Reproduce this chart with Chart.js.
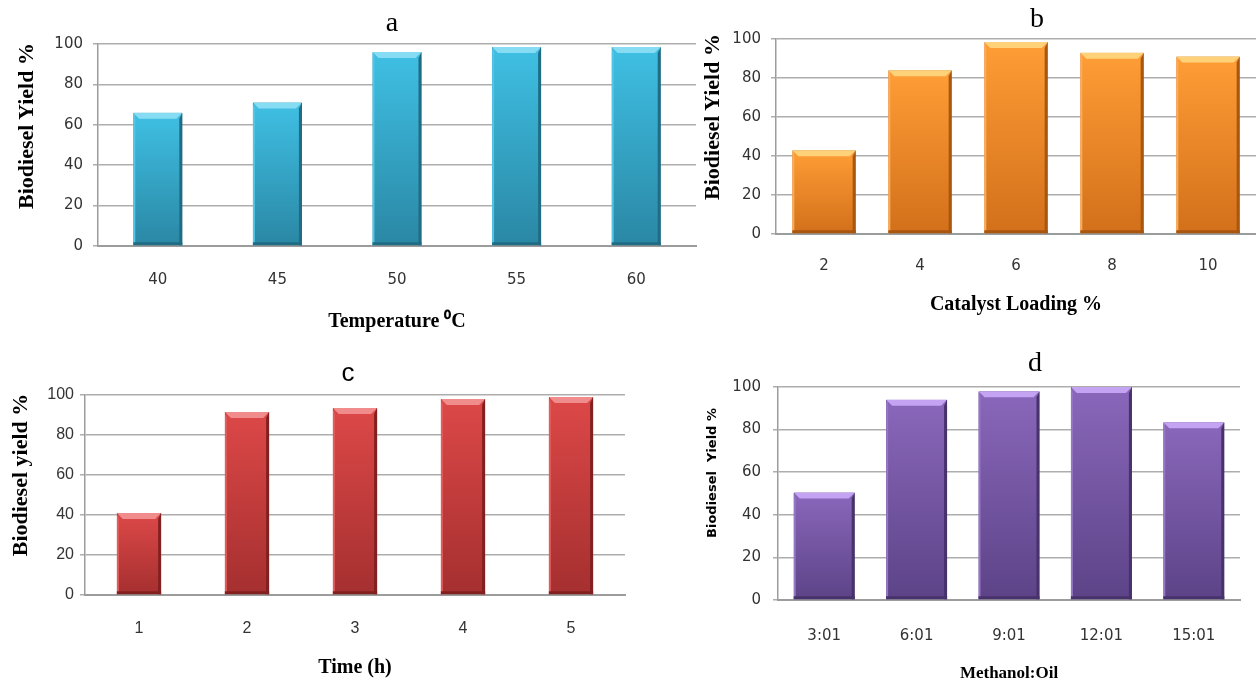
<!DOCTYPE html>
<html>
<head>
<meta charset="utf-8">
<script src="https://cdn.jsdelivr.net/npm/chart.js@4.4.0/dist/chart.umd.min.js"></script>
<style>
  html, body { margin: 0; padding: 0; background: #fff; }
  #wrap { position: relative; width: 1256px; height: 684px; overflow: hidden; }
  .panel { position: absolute; }
  .lbl { position: absolute; transform: translate(-50%, -50%); white-space: pre; color: #000; line-height: 1; }
  .vert { transform: translate(-50%, -50%) rotate(-90deg); }
</style>
</head>
<body>
<div id="wrap">
  <div class="panel" style="left:0;top:0"><canvas id="chartA" width="700" height="340"></canvas></div>
  <div class="panel" style="left:700px;top:0"><canvas id="chartB" width="556" height="340"></canvas></div>
  <div class="panel" style="left:0;top:340px"><canvas id="chartC" width="700" height="344"></canvas></div>
  <div class="panel" style="left:700px;top:340px"><canvas id="chartD" width="556" height="344"></canvas></div>

  <div class="lbl" style="left:392px;top:22px;font:28px 'Liberation Serif'">a</div>
  <div class="lbl" style="left:1037px;top:18px;font:28px 'Liberation Serif'">b</div>
  <div class="lbl" style="left:348px;top:372px;font:26px 'Liberation Sans'">c</div>
  <div class="lbl" style="left:1035px;top:362px;font:28px 'Liberation Serif'">d</div>

  <div class="lbl vert" style="left:26px;top:126px;font:bold 22px 'Liberation Serif'">Biodiesel Yield %</div>
  <div class="lbl vert" style="left:712px;top:117px;font:bold 22px 'Liberation Serif'">Biodiesel Yield %</div>
  <div class="lbl vert" style="left:20px;top:475px;font:bold 22px 'Liberation Serif'">Biodiesel yield %</div>
  <div class="lbl vert" style="left:711px;top:473px;font:bold 13px 'DejaVu Sans'">Biodiesel  Yield %</div>
</div>
<script>
// values
const tempLabels = ["40", "45", "50", "55", "60"];
const tempYield = [66, 71, 96, 98.5, 98.5];
const catalystLabels = ["2", "4", "6", "8", "10"];
const catalystYield = [43, 84, 98.5, 93, 91];
const timeLabels = ["1", "2", "3", "4", "5"];
const timeYield = [41, 91.5, 93.5, 98, 99];
const ratioLabels = ["3:01", "6:01", "9:01", "12:01", "15:01"];
const ratioYield = [50.5, 94, 98, 100, 83.5];
const yieldTicks = [0, 20, 40, 60, 80, 100];

// excel-ish bevel on each bar
const bevel = {
  id: "bevel",
  afterDatasetsDraw(chart, args, opts) {
    const ctx = chart.ctx;
    chart.getDatasetMeta(0).data.forEach((bar) => {
      const { x, y, base, width } = bar.getProps(["x", "y", "base", "width"], true);
      const l = x - width / 2, r = x + width / 2;
      const d = Math.min(6, (base - y) / 4);
      ctx.save();
      ctx.fillStyle = opts.light;
      ctx.beginPath();
      ctx.moveTo(l, y); ctx.lineTo(r, y); ctx.lineTo(r - d, y + d); ctx.lineTo(l + d, y + d);
      ctx.closePath(); ctx.fill();
      ctx.fillStyle = opts.dark;
      ctx.beginPath();
      ctx.moveTo(r, y); ctx.lineTo(r, base); ctx.lineTo(r - 3, base); ctx.lineTo(r - 3, y + d);
      ctx.closePath(); ctx.fill();
      ctx.fillStyle = opts.side;
      ctx.beginPath();
      ctx.moveTo(l, y); ctx.lineTo(l + 2, y + d); ctx.lineTo(l + 2, base); ctx.lineTo(l, base);
      ctx.closePath(); ctx.fill();
      ctx.fillStyle = opts.dark;
      ctx.fillRect(l, base - 3, width, 3);
      ctx.restore();
    });
  },
};

const makeChart = (id, labels, values, o) => {
  const ctx = document.getElementById(id);
  new Chart(ctx, {
    type: "bar",
    data: {
      labels: labels,
      datasets: [
        {
          data: values,
          backgroundColor: (c) => {
            const chart = c.chart;
            if (!chart.chartArea || c.type !== "data") return o.top;
            const ys = chart.scales.y;
            const g = chart.ctx.createLinearGradient(0, ys.getPixelForValue(c.parsed.y), 0, ys.getPixelForValue(0));
            g.addColorStop(0, o.top);
            g.addColorStop(1, o.bottom);
            return g;
          },
          borderColor: o.edge,
          borderWidth: 1,
          borderSkipped: false,
          barPercentage: o.barPct,
          categoryPercentage: 1,
        },
      ],
    },
    plugins: [bevel],
    options: {
      responsive: false,
      animation: false,
      events: [],
      layout: { padding: { top: o.padTop, right: o.padRight, left: 0, bottom: 0 } },
      plugins: {
        legend: { display: false },
        tooltip: { enabled: false },
        bevel: { light: o.light, dark: o.edge, side: o.side },
      },
      scales: {
        x: {
          grid: { display: false, drawTicks: false },
          border: { color: "#9c9c9c", width: 2 },
          ticks: { color: "#333", font: o.tickFont, padding: o.xTickPad },
          title: {
            display: true,
            text: o.xTitle,
            color: "#000",
            font: o.xTitleFont,
            padding: { top: 0, bottom: o.xTitlePad },
          },
          afterFit: (s) => { s.height = o.xHeight; },
        },
        y: {
          min: 0,
          max: 100,
          afterBuildTicks: (s) => { s.ticks = yieldTicks.map((v) => ({ value: v })); },
          grid: { color: "#adadad", lineWidth: 1.5, tickLength: 5 },
          border: { color: "#9c9c9c", width: 1.5 },
          ticks: { color: "#333", font: o.tickFont, padding: o.yTickPad },
          afterFit: (s) => { s.width = o.yWidth; },
        },
      },
    },
  });
};

makeChart("chartA", tempLabels, tempYield, {
  top: "#3fc0e4", bottom: "#2a87a4", light: "#86dcf3", edge: "#1f6c84", side: "#52c6e6",
  barPct: 0.41, padTop: 44, padRight: 4, yWidth: 98, xHeight: 94,
  tickFont: { family: "DejaVu Sans", size: 15 }, xTickPad: 25, yTickPad: 10,
  xTitle: "Temperature ⁰C", xTitleFont: { family: "Liberation Serif", size: 20, weight: "bold" }, xTitlePad: 6,
});

makeChart("chartB", catalystLabels, catalystYield, {
  top: "#ff9d36", bottom: "#d2701b", light: "#ffd27a", edge: "#a9560f", side: "#ffab52",
  barPct: 0.66, padTop: 39, padRight: 0, yWidth: 76, xHeight: 106,
  tickFont: { family: "DejaVu Sans", size: 15 }, xTickPad: 23, yTickPad: 10,
  xTitle: "Catalyst Loading %", xTitleFont: { family: "Liberation Serif", size: 20, weight: "bold" }, xTitlePad: 23,
});

makeChart("chartC", timeLabels, timeYield, {
  top: "#dd4848", bottom: "#a52f2f", light: "#f08c8c", edge: "#822020", side: "#e35c5c",
  barPct: 0.41, padTop: 55, padRight: 75, yWidth: 85, xHeight: 89,
  tickFont: { family: "Liberation Sans", size: 16 }, xTickPad: 24, yTickPad: 6,
  xTitle: "Time (h)", xTitleFont: { family: "Liberation Serif", size: 20, weight: "bold" }, xTitlePad: 4,
});

makeChart("chartD", ratioLabels, ratioYield, {
  top: "#8a67bb", bottom: "#5c4387", light: "#c3a3f2", edge: "#47326b", side: "#9677c4",
  barPct: 0.66, padTop: 47, padRight: 16, yWidth: 78, xHeight: 84,
  tickFont: { family: "DejaVu Sans", size: 15 }, xTickPad: 27, yTickPad: 12,
  xTitle: "Methanol:Oil", xTitleFont: { family: "Liberation Serif", size: 17, weight: "bold" }, xTitlePad: 0,
});
</script>
</body>
</html>
